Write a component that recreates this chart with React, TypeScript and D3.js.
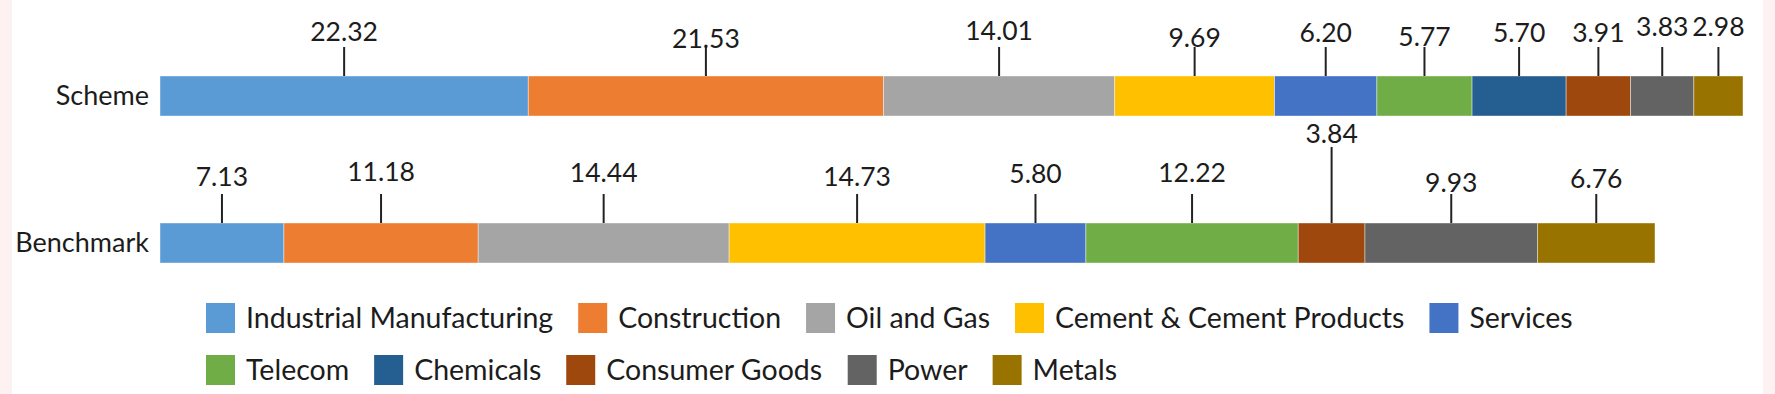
import * as d3 from "d3";

// sectors in stacking order
const sectors = [
  "Industrial Manufacturing",
  "Construction",
  "Oil and Gas",
  "Cement & Cement Products",
  "Services",
  "Telecom",
  "Chemicals",
  "Consumer Goods",
  "Power",
  "Metals",
];
const sectorColors = [
  "#5B9BD5",
  "#ED7D31",
  "#A5A5A5",
  "#FFC000",
  "#4472C4",
  "#70AD47",
  "#255E91",
  "#9E480E",
  "#636363",
  "#997300",
];
const rowNames = ["Scheme", "Benchmark"];
const schemeValues = [22.32, 21.53, 14.01, 9.69, 6.2, 5.77, 5.7, 3.91, 3.83, 2.98];
const benchmarkValues = [7.13, 11.18, 14.44, 14.73, 5.8, 12.22, null, 3.84, 9.93, 6.76];

// layout
const width = 1775;
const height = 394;
const barLeft = 160;
const rowEnds = [1743, 1655];
const barTops = [76, 223];
const barHeight = 40;
const fontFamily = "Lato, 'Open Sans', sans-serif";
const rowFontSize = 27;
const labelFontSize = 26.5;
const legendFontSize = 28.5;
const textColor = "#1c1c1c";
// data label height above bar top (Excel staggered them)
const labelDy = [
  [44, 37, 45, 38, 43, 39, 43, 43, 49, 49],
  [46, 51, 50, 46, 49, 50, 0, 89, 40, 44],
];
const legendRows = [
  [0, 1, 2, 3, 4],
  [5, 6, 7, 8, 9],
];
const legendY = [318, 370];
const legendLeft = 206;
const swatch = 29;
const legendGap = 25;

const measure = (() => {
  const ctx = document.createElement("canvas").getContext("2d");
  return (s: string) => {
    if (!ctx) return s.length * legendFontSize * 0.5;
    ctx.font = `${legendFontSize}px ${fontFamily}`;
    return ctx.measureText(s).width;
  };
})();

const App = () => {
  const rows = [schemeValues, benchmarkValues].map((vals, r) => {
    const total = d3.sum(vals, (v) => v ?? 0);
    const x = d3.scaleLinear().domain([0, total]).range([barLeft, rowEnds[r]]);
    let acc = 0;
    const segs = vals.map((v, i) => {
      const x0 = acc;
      acc += v ?? 0;
      return { i, v, x0, x1: acc };
    });
    return { x, segs: segs.filter((s) => s.v != null) };
  });

  return (
    <div>
      <style>{"body{margin:0}"}</style>
      <svg width={width} height={height} style={{ display: "block", background: "#fff" }}>
        <rect x={0} y={0} width={12} height={height} fill="#fdf1f2" />
        <rect x={1763} y={0} width={12} height={height} fill="#fdf1f2" />
        {rows.map((row, r) => (
          <g key={rowNames[r]}>
            <text
              x={barLeft - 11}
              y={barTops[r] + barHeight / 2}
              dy="0.35em"
              textAnchor="end"
              fontFamily={fontFamily}
              fontSize={rowFontSize}
              fill={textColor}
            >
              {rowNames[r]}
            </text>
            {row.segs.map((s) => (
              <rect
                key={s.i}
                x={row.x(s.x0)}
                y={barTops[r]}
                width={row.x(s.x1) - row.x(s.x0)}
                height={barHeight}
                fill={sectorColors[s.i]}
                stroke="#fff"
                strokeOpacity={0.5}
                strokeWidth={0.8}
              />
            ))}
            {row.segs.map((s) => {
              const cx = row.x((s.x0 + s.x1) / 2);
              const dy = labelDy[r][s.i];
              const lead = dy > 60 ? dy - 13 : 29;
              return (
                <g key={"l" + s.i}>
                  <line
                    x1={cx}
                    x2={cx}
                    y1={barTops[r]}
                    y2={barTops[r] - lead}
                    stroke="#222"
                    strokeWidth={2}
                  />
                  <text
                    x={cx}
                    y={barTops[r] - dy}
                    dy="0.35em"
                    textAnchor="middle"
                    fontFamily={fontFamily}
                    fontSize={labelFontSize}
                    fill={textColor}
                  >
                    {d3.format(".2f")(s.v as number)}
                  </text>
                </g>
              );
            })}
          </g>
        ))}
        {legendRows.map((items, r) => {
          let cx = legendLeft;
          return (
            <g key={"leg" + r}>
              {items.map((i) => {
                const x0 = cx;
                cx += swatch + 11 + measure(sectors[i]) + legendGap;
                return (
                  <g key={i} transform={`translate(${x0},${legendY[r]})`}>
                    <rect x={0} y={-15} width={swatch} height={30} fill={sectorColors[i]} />
                    <text
                      x={swatch + 11}
                      dy="0.35em"
                      fontFamily={fontFamily}
                      fontSize={legendFontSize}
                      fill={textColor}
                    >
                      {sectors[i]}
                    </text>
                  </g>
                );
              })}
            </g>
          );
        })}
      </svg>
    </div>
  );
};

export default App;
